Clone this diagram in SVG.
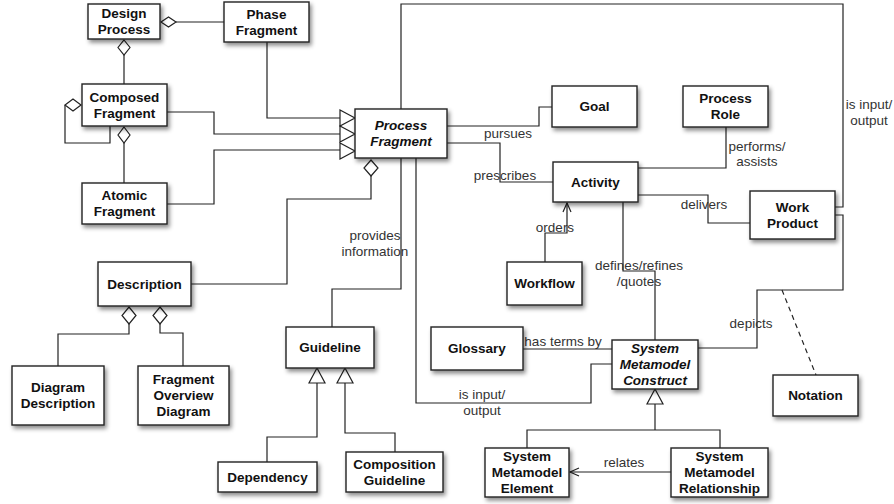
<svg xmlns="http://www.w3.org/2000/svg" width="894" height="504" viewBox="0 0 894 504">
<defs>
<filter id="sh" x="-20%" y="-20%" width="150%" height="160%">
<feDropShadow dx="2" dy="3" stdDeviation="2.2" flood-color="#000" flood-opacity="0.45"/>
</filter>
<marker id="open" markerWidth="12" markerHeight="12" refX="10" refY="5" orient="auto" markerUnits="userSpaceOnUse">
<path d="M1,1 L10,5 L1,9" fill="none" stroke="#222" stroke-width="1.2"/>
</marker>
</defs>
<style>
.box{fill:#fff;stroke:#222;stroke-width:1.4;filter:url(#sh)}
.t{font-family:"Liberation Sans",Arial,sans-serif;font-weight:bold;font-size:13.5px;fill:#111;text-anchor:middle}
.ti{font-style:italic}
.l{font-family:"Liberation Sans",Arial,sans-serif;font-size:13.5px;fill:#333;text-anchor:middle}
.c{fill:none;stroke:#222;stroke-width:1.2}
.dash{stroke-dasharray:5,4}
.h{fill:#fff;stroke:#222;stroke-width:1.2}
</style>
<rect width="894" height="504" fill="#fff"/>
<g id="connectors">
<!-- Design Process - Phase Fragment -->
<path class="c" d="M176,22 H224"/>
<!-- Design Process - Composed -->
<path class="c" d="M124,55 V84"/>
<!-- Composed self loop -->
<path class="c" d="M65,105 V143 H110 V126"/>
<!-- Composed - Atomic -->
<path class="c" d="M124,143 V183"/>
<!-- generalizations to Process Fragment -->
<path class="c" d="M267,42 V118 H340"/>
<path class="c" d="M167,112 H214 V134 H340"/>
<path class="c" d="M167,204 H214 V150 H340"/>
<!-- Process Fragment - Description -->
<path class="c" d="M371,176 V199 H287 V284 H191"/>
<!-- Description - subparts -->
<path class="c" d="M129,324 V334 H58 V366"/>
<path class="c" d="M160,324 V333 H183 V366"/>
<!-- provides information -->
<path class="c" d="M401,158 V289 H332 V327"/>
<!-- Guideline generalizations -->
<path class="c" d="M317,383 V437 H267 V462"/>
<path class="c" d="M345,383 V433 H395 V452"/>
<!-- top is input/output -->
<path class="c" d="M401,109 V4 H843 V207 H835"/>
<!-- pursues -->
<path class="c" d="M447,126 H539 V107 H552"/>
<!-- prescribes -->
<path class="c" d="M447,143 H500 V182 H553"/>
<!-- performs/assists -->
<path class="c" d="M638,168 H726 V127"/>
<!-- delivers -->
<path class="c" d="M638,195 H708 V223 H750"/>
<!-- orders -->
<path class="c" d="M545,262 V233 H567 V203" marker-end="url(#open)"/>
<!-- defines/refines/quotes -->
<path class="c" d="M623,202 V271 H655 V340"/>
<!-- has terms by -->
<path class="c" d="M523,349 H612"/>
<!-- bottom is input/output -->
<path class="c" d="M416,158 V403 H591 V364 H612"/>
<!-- depicts -->
<path class="c" d="M835,215 H843 V290 H757 V348 H698"/>
<!-- notation dashed -->
<path class="c dash" d="M782,290 L816,375"/>
<!-- SMC generalization -->
<path class="c" d="M655,404 V430"/>
<path class="c" d="M527,448 V430 H720 V448"/>
<!-- relates -->
<path class="c" d="M671,472 H570" marker-end="url(#open)"/>
<!-- diamonds -->
<path class="h" d="M161,22 L168.5,17 L176,22 L168.5,27 Z"/>
<path class="h" d="M124,40 L130,47.5 L124,55 L118,47.5 Z"/>
<path class="h" d="M81,105 L73,111 L65,105 L73,99 Z"/>
<path class="h" d="M124,127 L130,135 L124,143 L118,135 Z"/>
<path class="h" d="M371,160 L378,168 L371,176 L364,168 Z"/>
<path class="h" d="M129,307 L136,315.5 L129,324 L122,315.5 Z"/>
<path class="h" d="M160,307 L167,315.5 L160,324 L153,315.5 Z"/>
<!-- triangles -->
<path class="h" d="M355,118 L340,110 L340,126 Z"/>
<path class="h" d="M355,134 L340,126 L340,142 Z"/>
<path class="h" d="M355,151 L340,143 L340,159 Z"/>
<path class="h" d="M317,368 L325,383 L309,383 Z"/>
<path class="h" d="M345,368 L353,383 L337,383 Z"/>
<path class="h" d="M655,389 L663,404 L647,404 Z"/>
<!-- labels -->
<text class="l" x="375" y="240">provides</text>
<text class="l" x="375" y="256">information</text>
<text class="l" x="508" y="138">pursues</text>
<text class="l" x="505" y="180">prescribes</text>
<text class="l" x="757" y="151">performs/</text>
<text class="l" x="757" y="166">assists</text>
<text class="l" x="704" y="209">delivers</text>
<text class="l" x="869" y="109">is input/</text>
<text class="l" x="869" y="125">output</text>
<text class="l" x="555" y="232">orders</text>
<text class="l" x="639" y="270">defines/refines</text>
<text class="l" x="639" y="286">/quotes</text>
<text class="l" x="563" y="346">has terms by</text>
<text class="l" x="482" y="399">is input/</text>
<text class="l" x="482" y="415">output</text>
<text class="l" x="751" y="328">depicts</text>
<text class="l" x="624" y="467">relates</text>
</g>
<g id="design-process"><rect class="box" x="88" y="4" width="72" height="35"/><text class="t" x="124" y="18.3">Design</text><text class="t" x="124" y="34.3">Process</text></g>
<g id="phase-fragment"><rect class="box" x="224" y="2" width="85" height="40"/><text class="t" x="266.5" y="18.8">Phase</text><text class="t" x="266.5" y="34.8">Fragment</text></g>
<g id="composed-fragment"><rect class="box" x="82" y="84" width="85" height="42"/><text class="t" x="124.5" y="101.8">Composed</text><text class="t" x="124.5" y="117.8">Fragment</text></g>
<g id="atomic-fragment"><rect class="box" x="82" y="183" width="85" height="41"/><text class="t" x="124.5" y="200.3">Atomic</text><text class="t" x="124.5" y="216.3">Fragment</text></g>
<g id="process-fragment"><rect class="box" x="355" y="109" width="92" height="49"/><text class="t ti" x="401" y="130.3">Process</text><text class="t ti" x="401" y="146.3">Fragment</text></g>
<g id="description"><rect class="box" x="98" y="262" width="93" height="44"/><text class="t" x="144.5" y="288.8">Description</text></g>
<g id="diagram-description"><rect class="box" x="12" y="366" width="92" height="59"/><text class="t" x="58" y="392.3">Diagram</text><text class="t" x="58" y="408.3">Description</text></g>
<g id="fragment-overview-diagram"><rect class="box" x="138" y="366" width="91" height="59"/><text class="t" x="183.5" y="384.3">Fragment</text><text class="t" x="183.5" y="400.3">Overview</text><text class="t" x="183.5" y="416.3">Diagram</text></g>
<g id="guideline"><rect class="box" x="286" y="327" width="88" height="41"/><text class="t" x="330" y="352.3">Guideline</text></g>
<g id="dependency"><rect class="box" x="218" y="462" width="99" height="30"/><text class="t" x="267.5" y="481.8">Dependency</text></g>
<g id="composition-guideline"><rect class="box" x="346" y="452" width="97" height="40"/><text class="t" x="394.5" y="468.8">Composition</text><text class="t" x="394.5" y="484.8">Guideline</text></g>
<g id="goal"><rect class="box" x="552" y="86" width="85" height="41"/><text class="t" x="594.5" y="111.3">Goal</text></g>
<g id="process-role"><rect class="box" x="683" y="86" width="85" height="41"/><text class="t" x="725.5" y="103.3">Process</text><text class="t" x="725.5" y="119.3">Role</text></g>
<g id="activity"><rect class="box" x="553" y="162" width="85" height="40"/><text class="t" x="595.5" y="186.8">Activity</text></g>
<g id="work-product"><rect class="box" x="750" y="191" width="85" height="48"/><text class="t" x="792.5" y="211.8">Work</text><text class="t" x="792.5" y="227.8">Product</text></g>
<g id="workflow"><rect class="box" x="507" y="262" width="75" height="43"/><text class="t" x="544.5" y="288.3">Workflow</text></g>
<g id="glossary"><rect class="box" x="431" y="327" width="92" height="43"/><text class="t" x="477" y="353.3">Glossary</text></g>
<g id="system-metamodel-construct"><rect class="box" x="612" y="340" width="86" height="49"/><text class="t ti" x="655" y="353.3">System</text><text class="t ti" x="655" y="369.3">Metamodel</text><text class="t ti" x="655" y="385.3">Construct</text></g>
<g id="notation"><rect class="box" x="773" y="375" width="85" height="41"/><text class="t" x="815.5" y="400.3">Notation</text></g>
<g id="system-metamodel-element"><rect class="box" x="485" y="448" width="84" height="49"/><text class="t" x="527" y="461.3">System</text><text class="t" x="527" y="477.3">Metamodel</text><text class="t" x="527" y="493.3">Element</text></g>
<g id="system-metamodel-relationship"><rect class="box" x="671" y="448" width="97" height="49"/><text class="t" x="719.5" y="461.3">System</text><text class="t" x="719.5" y="477.3">Metamodel</text><text class="t" x="719.5" y="493.3">Relationship</text></g>
</svg>
